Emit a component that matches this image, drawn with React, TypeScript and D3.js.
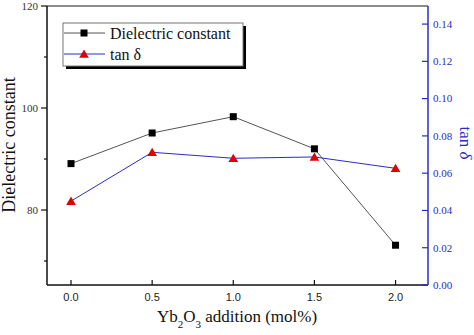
import React from "react";
import * as d3 from "d3";

const xValues = [0.0, 0.5, 1.0, 1.5, 2.0];
const dielectric = [89.1, 95.1, 98.3, 92.0, 73.1];
const tanDelta = [0.045, 0.0712, 0.068, 0.0687, 0.0626];
const xTicks = [0.0, 0.5, 1.0, 1.5, 2.0];
const leftTicks = [80, 100, 120];
const leftMinor = [70, 90, 110];
const rightTicks = [0, 0.02, 0.04, 0.06, 0.08, 0.1, 0.12, 0.14];

const W = 474, H = 335;
const L = 47, R = 428, T = 6, B = 285;
const BLUE = "#2b2bc8";
const SERIF = "'Liberation Serif', 'Times New Roman', serif";
const SANS = "'Liberation Sans', Arial, sans-serif";

export default function App() {
  const x = d3.scaleLinear().domain([-0.148, 2.2]).range([L, R]);
  const yL = d3.scaleLinear().domain([65.3, 120]).range([B, T]);
  const yR = d3.scaleLinear().domain([0, 0.1497]).range([B, T]);
  const lineL = d3.line<number>().x((_, i) => x(xValues[i])).y((d) => yL(d));
  const lineR = d3.line<number>().x((_, i) => x(xValues[i])).y((d) => yR(d));
  const tri = d3.symbol().type(d3.symbolTriangle).size(40)();

  return (
    <svg width={W} height={H} style={{ position: "absolute", left: 0, top: 0, background: "#fff" }}>
      <rect width={W} height={H} fill="#fff" />
      {/* frame */}
      <line x1={L} x2={R} y1={T} y2={T} stroke="#666" strokeWidth={1.5} />
      <line x1={L} x2={L} y1={T} y2={B} stroke="#111" strokeWidth={1.5} />
      <line x1={L} x2={R} y1={B} y2={B} stroke="#111" strokeWidth={1.5} />
      <line x1={R} x2={R} y1={T} y2={B} stroke={BLUE} strokeWidth={1.5} />

      {/* left ticks */}
      {leftTicks.map((t) => (
        <g key={"l" + t}>
          <line x1={L - 6} x2={L} y1={yL(t)} y2={yL(t)} stroke="#111" strokeWidth={1.2} />
          <text x={L - 9} y={yL(t)} dy="0.35em" textAnchor="end" fontFamily={SERIF} fontSize={11} fill="#333">{t}</text>
        </g>
      ))}
      {leftMinor.map((t) => (
        <line key={"lm" + t} x1={L - 3} x2={L} y1={yL(t)} y2={yL(t)} stroke="#111" strokeWidth={1.2} />
      ))}

      {/* bottom ticks */}
      {xTicks.map((t) => (
        <g key={"x" + t}>
          <line x1={x(t)} x2={x(t)} y1={B} y2={B - 5} stroke="#111" strokeWidth={1.2} />
          <text x={x(t)} y={B + 12} dy="0.35em" textAnchor="middle" fontFamily={SANS} fontSize={11} fill="#222">{t.toFixed(1)}</text>
        </g>
      ))}

      {/* right ticks */}
      {rightTicks.map((t) => (
        <g key={"r" + t}>
          <line x1={R - 6} x2={R} y1={yR(t)} y2={yR(t)} stroke={BLUE} strokeWidth={1.2} />
          <text x={R + 5} y={yR(t)} dy="0.35em" textAnchor="start" fontFamily={SERIF} fontSize={11} fill={BLUE}>{t.toFixed(2)}</text>
        </g>
      ))}

      {/* axis titles */}
      <text transform={`translate(15,145) rotate(-90)`} textAnchor="middle" fontFamily={SERIF} fontSize={18} fill="#111">Dielectric constant</text>
      <text x={237} y={322} textAnchor="middle" fontFamily={SERIF} fontSize={17} fill="#111">
        Yb<tspan baselineShift="sub" fontSize={11}>2</tspan>O<tspan baselineShift="sub" fontSize={11}>3</tspan> addition (mol%)
      </text>
      <text transform={`translate(460,143) rotate(90)`} textAnchor="middle" fontFamily={SERIF} fontSize={17} fill={BLUE}>
        tan <tspan fontStyle="italic">δ</tspan>
      </text>

      {/* series */}
      <path d={lineL(dielectric) || ""} fill="none" stroke="#555" strokeWidth={1} />
      <path d={lineR(tanDelta) || ""} fill="none" stroke={BLUE} strokeWidth={1} />
      {dielectric.map((d, i) => (
        <rect key={"s" + i} x={x(xValues[i]) - 3.5} y={yL(d) - 3.5} width={7} height={7} fill="#000" />
      ))}
      {tanDelta.map((d, i) => (
        <path key={"t" + i} d={tri || ""} transform={`translate(${x(xValues[i])},${yR(d) + 1})`} fill="#e00000" />
      ))}

      {/* legend */}
      <rect x={66} y={26} width={180} height={43} fill="#000" />
      <rect x={63} y={23} width={180} height={43} fill="#fff" stroke="#777" strokeWidth={1} />
      <line x1={64} x2={105} y1={33} y2={33} stroke="#555" strokeWidth={1} />
      <rect x={80.5} y={29.5} width={7} height={7} fill="#000" />
      <text x={110} y={33} dy="0.35em" fontFamily={SERIF} fontSize={16} fill="#111">Dielectric constant</text>
      <line x1={64} x2={105} y1={54} y2={54} stroke={BLUE} strokeWidth={1} />
      <path d={tri || ""} transform="translate(84,55)" fill="#e00000" />
      <text x={110} y={54} dy="0.35em" fontFamily={SERIF} fontSize={16} fill="#111">tan δ</text>
    </svg>
  );
}
